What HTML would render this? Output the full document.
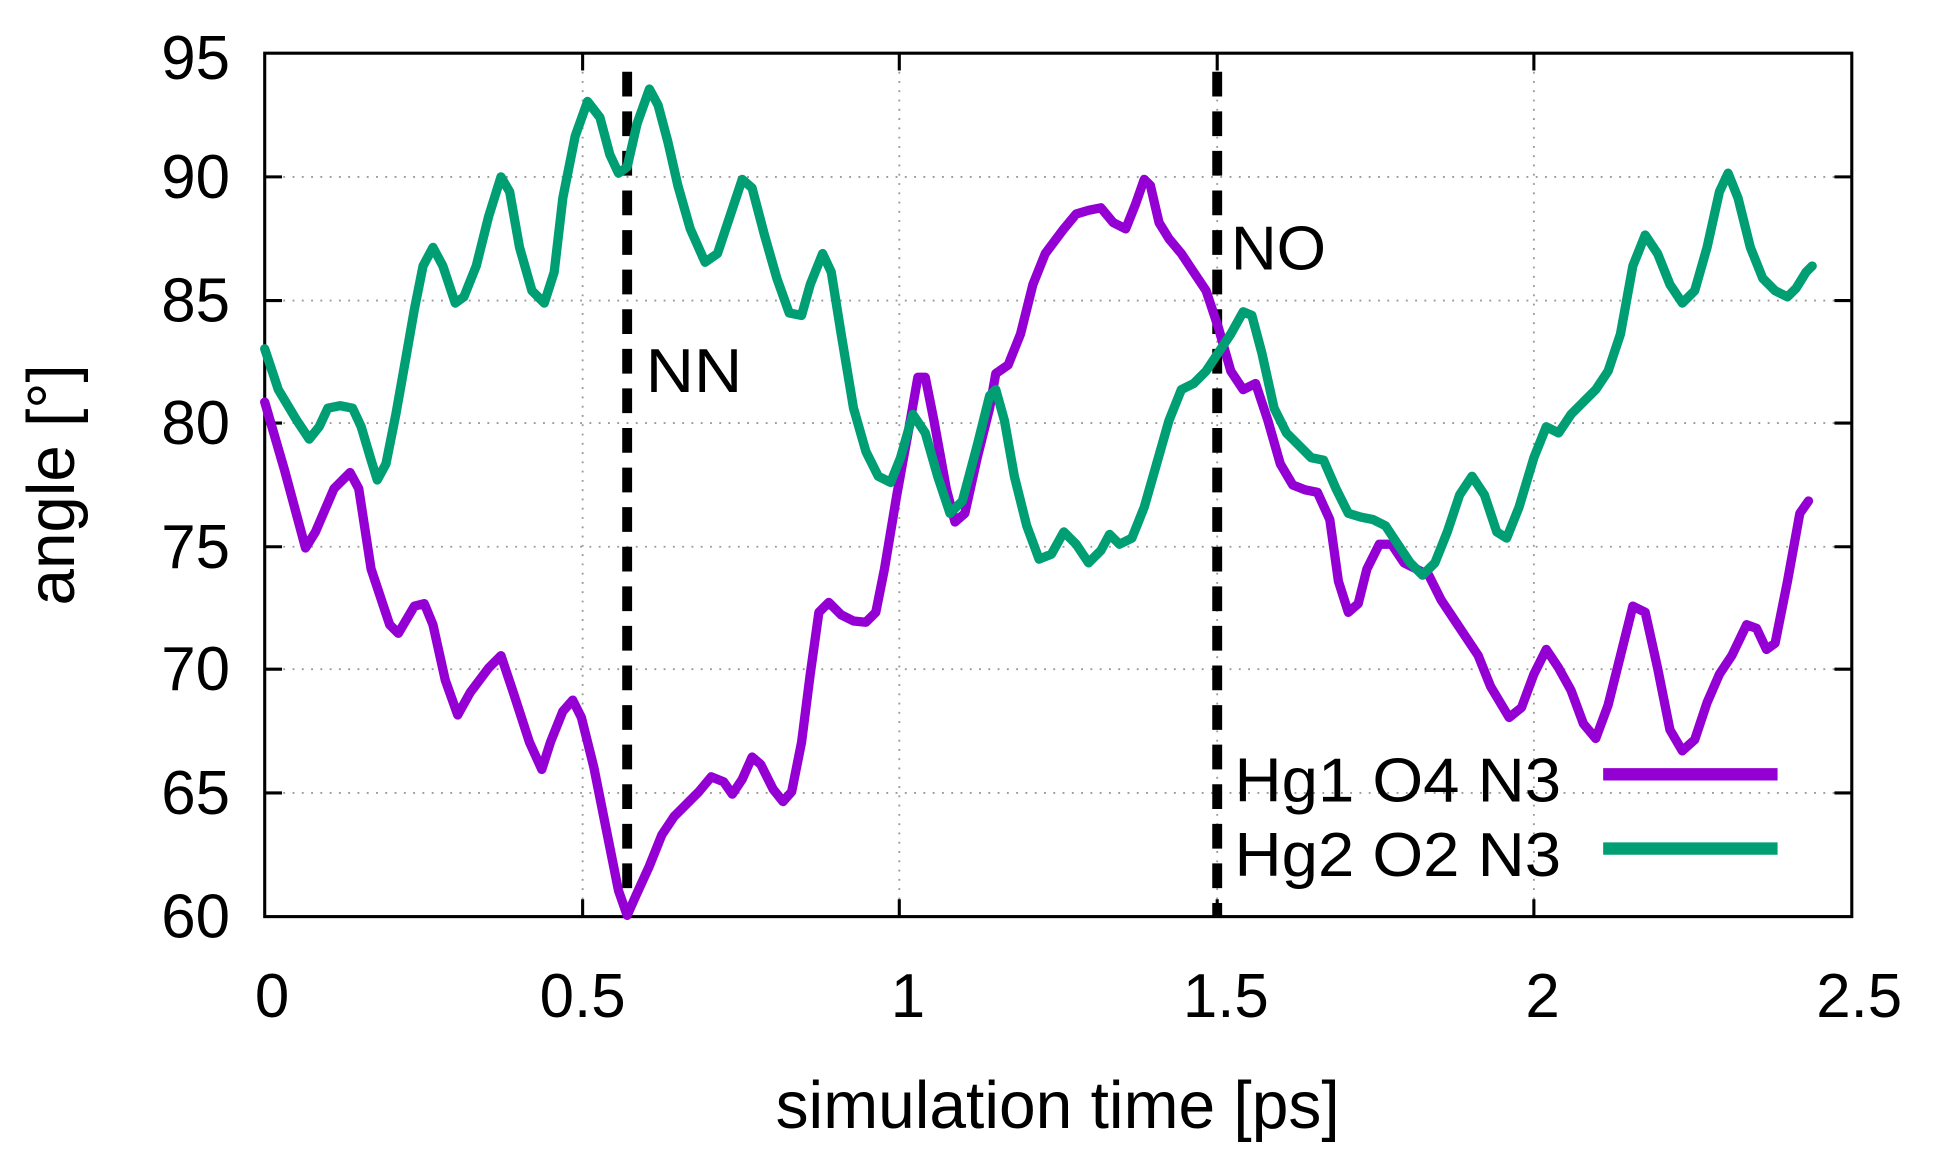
<!DOCTYPE html>
<html><head><meta charset="utf-8"><style>
html,body{margin:0;padding:0;background:#fff;}
svg{display:block;}
text{font-family:"Liberation Sans",sans-serif;fill:#000;}
</style></head><body>
<svg width="1941" height="1164" viewBox="0 0 1941 1164" xmlns="http://www.w3.org/2000/svg">
<g transform="scale(1.237)">
<g stroke="#999" stroke-width="1.5" stroke-dasharray="1.5,6">
<line x1="214" y1="143" x2="1497" y2="143"/><line x1="214" y1="243" x2="1497" y2="243"/>
<line x1="214" y1="342" x2="1497" y2="342"/><line x1="214" y1="442" x2="1497" y2="442"/>
<line x1="214" y1="541" x2="1497" y2="541"/><line x1="214" y1="641" x2="1497" y2="641"/>
<line x1="471" y1="43" x2="471" y2="741"/><line x1="727" y1="43" x2="727" y2="741"/>
<line x1="984" y1="43" x2="984" y2="741"/><line x1="1240" y1="43" x2="1240" y2="741"/>
</g>
<g stroke="#000" stroke-width="2.5" fill="none">
<rect x="214" y="43" width="1283" height="698"/>
<path d="M214 143h14M214 243h14M214 342h14M214 442h14M214 541h14M214 641h14M1497 143h-14M1497 243h-14M1497 342h-14M1497 442h-14M1497 541h-14M1497 641h-14M471 741v-14M727 741v-14M984 741v-14M1240 741v-14M471 43v14M727 43v14M984 43v14M1240 43v14"/>
</g>
<g stroke="#000" stroke-width="8" stroke-dasharray="20,12">
<line x1="507" y1="58" x2="507" y2="741"/>
<line x1="984" y1="58" x2="984" y2="741"/>
</g>
<g fill="none" stroke-width="7.5" stroke-linejoin="round" stroke-linecap="round">
<polyline stroke="#9400d3" points="214,325 230,380 247,443 255,430 270,395 283,382 290,395 300,460 315,505 322,512 335,490 343,488 350,505 360,550 370,578 380,560 395,540 405,530 415,560 428,600 438,622 445,600 455,575 463,566 470,580 480,620 492,680 500,720 507,740 515,722 525,700 535,675 545,660 555,650 565,640 575,628 585,632 592,642 600,630 608,612 615,618 625,638 633,648 640,640 648,600 655,545 662,495 670,487 680,497 690,502 700,503 708,495 715,460 725,400 735,345 742,305 748,305 755,340 765,395 772,422 780,415 790,370 800,330 805,302 815,295 825,270 835,230 845,205 860,185 870,173 880,170 890,168 900,180 910,185 918,165 925,145 930,150 937,180 945,193 955,205 965,220 975,235 985,265 995,300 1005,315 1015,310 1025,340 1035,375 1045,392 1055,396 1065,398 1075,420 1082,470 1090,495 1098,488 1105,460 1115,440 1125,440 1135,455 1145,460 1155,465 1165,485 1175,500 1185,515 1195,530 1205,555 1220,580 1230,572 1240,545 1250,525 1260,540 1270,558 1280,585 1290,597 1300,570 1310,530 1320,490 1330,495 1340,540 1350,590 1360,607 1370,598 1380,568 1390,545 1400,530 1412,505 1420,508 1428,525 1435,520 1445,470 1455,415 1462,405"/>
<polyline stroke="#009e73" points="214,282 225,315 240,340 250,355 258,345 265,330 275,328 285,330 292,345 300,372 305,388 312,375 320,335 328,290 335,250 342,215 350,200 358,215 368,245 375,240 385,215 395,175 405,143 412,155 420,200 430,235 440,245 448,220 455,160 465,110 475,82 485,95 493,125 500,140 507,135 515,100 525,72 532,85 540,115 548,150 558,185 570,212 580,205 590,175 600,145 608,152 618,190 628,225 638,253 648,255 655,230 665,205 672,220 680,270 690,330 700,365 710,385 720,390 728,370 738,335 748,350 758,385 768,415 778,405 790,360 800,320 805,315 812,340 820,385 830,425 840,452 850,448 860,430 870,440 880,455 890,445 897,432 905,440 915,435 925,410 935,375 945,340 955,315 965,310 975,300 985,285 995,270 1005,252 1012,255 1020,285 1030,330 1040,350 1050,360 1060,370 1070,372 1080,395 1090,415 1100,418 1110,420 1120,425 1130,440 1140,455 1150,465 1160,455 1170,430 1180,400 1190,385 1200,400 1210,430 1218,435 1228,410 1240,370 1250,345 1260,350 1270,335 1280,325 1290,315 1300,300 1310,270 1320,215 1330,190 1340,205 1350,230 1360,245 1370,235 1380,200 1390,155 1397,140 1405,160 1415,200 1425,225 1435,235 1445,240 1452,233 1460,220 1465,215"/>
<line x1="1296" y1="626" x2="1437" y2="626" stroke="#9400d3" stroke-width="10" stroke-linecap="butt"/>
<line x1="1296" y1="686" x2="1437" y2="686" stroke="#009e73" stroke-width="10" stroke-linecap="butt"/>
</g>
<g font-size="50">
<text x="998" y="648" textLength="264" lengthAdjust="spacingAndGlyphs">Hg1 O4 N3</text>
<text x="998" y="708" textLength="264" lengthAdjust="spacingAndGlyphs">Hg2 O2 N3</text>
<text x="522" y="317" textLength="78" lengthAdjust="spacingAndGlyphs">NN</text>
<text x="995" y="218" textLength="77" lengthAdjust="spacingAndGlyphs">NO</text>
</g>
<g font-size="50" text-anchor="end">
<text x="186" y="64">95</text><text x="186" y="160">90</text><text x="186" y="260">85</text>
<text x="186" y="359">80</text><text x="186" y="459">75</text><text x="186" y="558">70</text>
<text x="186" y="658">65</text><text x="186" y="758">60</text>
</g>
<g font-size="50" text-anchor="middle">
<text x="220" y="822">0</text><text x="471" y="822">0.5</text><text x="734" y="822">1</text>
<text x="991" y="822">1.5</text><text x="1247" y="822">2</text><text x="1503" y="822">2.5</text>
<text x="855" y="912" font-size="54" textLength="456" lengthAdjust="spacingAndGlyphs">simulation time [ps]</text>
<text transform="translate(60,392) rotate(-90)" font-size="54" textLength="195" lengthAdjust="spacingAndGlyphs">angle [°]</text>
</g>
</g>
</svg>
</body></html>
